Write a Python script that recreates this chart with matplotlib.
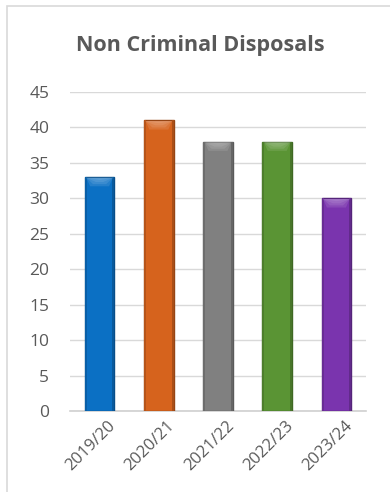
import matplotlib
matplotlib.use("Agg")
import matplotlib.pyplot as plt
from matplotlib.patches import Polygon, Rectangle
import matplotlib.colors as mcolors
import matplotlib.transforms as mtransforms

plt.rcParams['font.family'] = ['Open Sans', 'DejaVu Sans']

# Data
years = ["2019/20", "2020/21", "2021/22", "2022/23", "2023/24"]
disposals = [33, 41, 38, 38, 30]
bar_colors = ["#0b70c4", "#d6631d", "#808080", "#5a9434", "#7a34ae"]
y_ticks = [0, 5, 10, 15, 20, 25, 30, 35, 40, 45]
title = "Non Criminal Disposals"

fig = plt.figure(figsize=(3.9, 4.92), dpi=100)

# Chart area border (light grey frame)
fig.patches.append(Rectangle((7 / 390, -0.05), 1.2, 1 - 6 / 492 + 0.05,
                             transform=fig.transFigure, fill=False,
                             edgecolor="#d9d9d9", linewidth=1.2))

ax = fig.add_axes([70 / 390, 1 - 411 / 492, 296 / 390, (411 - 92) / 492])

x = list(range(len(years)))
bar_w = 0.5


def shade(c, f):
    r, g, b = mcolors.to_rgb(c)
    if f < 1:
        return (r * f, g * f, b * f)
    f = f - 1
    return (r + (1 - r) * f, g + (1 - g) * f, b + (1 - b) * f)


bars = ax.bar(x, disposals, width=bar_w, color=bar_colors,
              edgecolor=[shade(c, 0.7) for c in bar_colors], linewidth=1.0,
              zorder=3)

# Bevelled look: soft lighter top cap and darker side strips
for rect, c in zip(bars, bar_colors):
    x0 = rect.get_x()
    w = rect.get_width()
    h = rect.get_height()
    ax.add_patch(Rectangle((x0, 0), w * 0.07, h, facecolor=shade(c, 0.85),
                           edgecolor="none", zorder=4))
    ax.add_patch(Rectangle((x0 + w * 0.93, 0), w * 0.07, h,
                           facecolor=shade(c, 0.8), edgecolor="none", zorder=4))
    for k, cap in enumerate([1.3, 1.0, 0.7, 0.4]):
        inset = 0.06 + 0.1 * k
        ax.add_patch(Polygon([(x0 + w * 0.05, h - 0.1), (x0 + w * 0.95, h - 0.1),
                              (x0 + w * (1 - inset - 0.12), h - cap),
                              (x0 + w * (inset + 0.12), h - cap)], closed=True,
                             facecolor=shade(c, 1.6), alpha=0.18,
                             edgecolor="none", zorder=4))

ax.set_xlim(-0.5, len(years) - 0.5)
ax.set_ylim(0, 45)
ax.set_yticks(y_ticks)
ax.set_yticklabels([str(t) for t in y_ticks])
ax.set_xticks(x)
ax.set_xticklabels(years, rotation=45, ha="right", rotation_mode="anchor")

ax.grid(axis="y", color="#d9d9d9", linewidth=1.0, zorder=0)
ax.set_axisbelow(True)
for s in ["top", "right", "left"]:
    ax.spines[s].set_visible(False)
ax.spines["bottom"].set_color("#d0d0d0")
ax.spines["bottom"].set_linewidth(1.2)

ax.tick_params(axis="y", length=0, labelsize=12.5, labelcolor="#595959", pad=15)
ax.tick_params(axis="x", length=0, labelsize=12, labelcolor="#595959", pad=5)
shift = mtransforms.ScaledTranslation(8 / 100, 0, fig.dpi_scale_trans)
for lbl in ax.get_xticklabels():
    lbl.set_transform(lbl.get_transform() + shift)

fig.text(200 / 390, 1 - 45 / 492, title, ha="center", va="center",
         fontsize=15.5, fontweight="bold", color="#595959")

fig.savefig("out.png", dpi=100, facecolor="white")
